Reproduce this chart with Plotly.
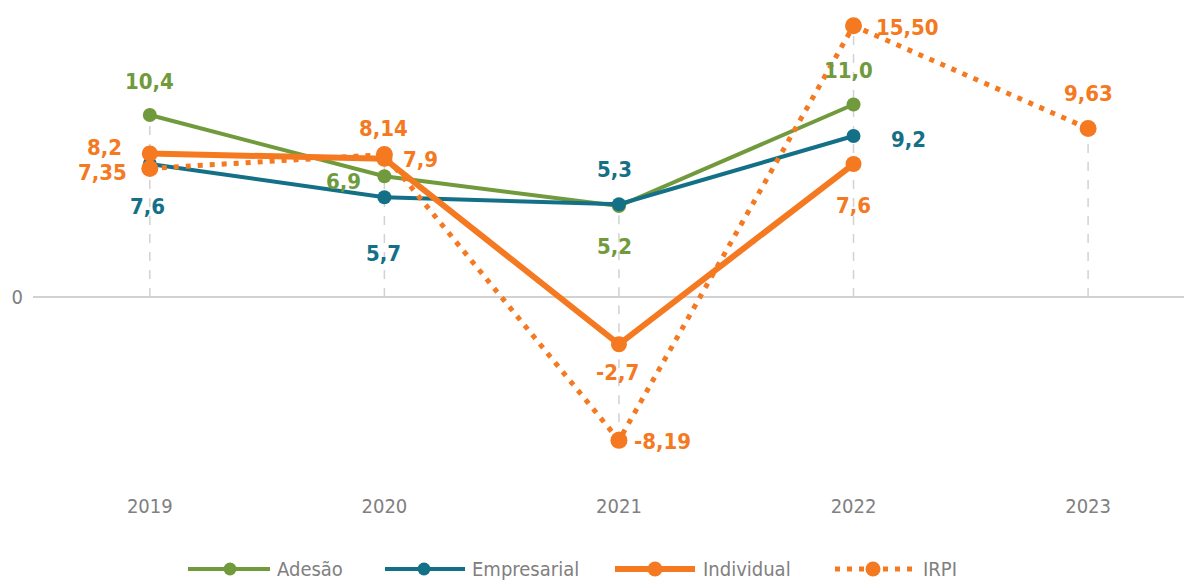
import plotly.graph_objects as go

years = ["2019", "2020", "2021", "2022", "2023"]
adesao = [10.4, 6.9, 5.2, 11.0, None]
empresarial = [7.6, 5.7, 5.3, 9.2, None]
individual = [8.2, 7.9, -2.7, 7.6, None]
irpi = [7.35, 8.14, -8.19, 15.50, 9.63]

GREEN = "rgb(112,154,60)"
TEAL = "rgb(19,112,135)"
ORANGE = "rgb(244,121,32)"
GRID = "rgb(210,210,210)"
GRAYTXT = "rgb(128,128,128)"
FONT = "DejaVu Sans Condensed, Roboto, sans-serif"

xpos = list(range(len(years)))

fig = go.Figure()

# vertical dashed drop lines (from the highest value down to zero / lowest value)
for i in xpos:
    vals = [s[i] for s in (adesao, empresarial, individual, irpi) if s[i] is not None]
    top = max(vals + [0])
    bot = min(vals + [0])
    fig.add_shape(type="line", xref="x", yref="y", x0=i, x1=i, y0=bot, y1=top,
                  line=dict(color=GRID, width=1.5, dash="dash"), layer="below")

series = [
    ("Adesão", adesao, GREEN, 4, "solid", 14, 1),
    ("Empresarial", empresarial, TEAL, 4, "solid", 14, 1),
    ("Individual", individual, ORANGE, 6, "solid", 16, 1),
    ("IRPI", irpi, ORANGE, 5, "5px,7px", 17, 2),
]
for name, vals, color, w, dash, ms, dec in series:
    xs = [x for x, v in zip(xpos, vals) if v is not None]
    ys = [v for v in vals if v is not None]
    fig.add_trace(go.Scatter(
        x=xs, y=ys, name=name, mode="lines+markers", showlegend=False,
        line=dict(color=color, width=w, dash=dash),
        marker=dict(color=color, size=ms),
    ))

# label offsets in pixels (dx, dy with dy positive downward)
offsets = {
    "Adesão": [(0, -34), (-41, 5), (-4, 40), (-5, -34), None],
    "Empresarial": [(-2, 42), (-1, 56), (-4, -35), (55, 3), None],
    "Individual": [(-45, -6), (36, 1), (-1, 28), (0, 41), None],
    "IRPI": [(-47, 4), (-1, -26), (44, 1), (54, 2), (0, -35)],
}
for name, vals, color, w, dash, ms, dec in series:
    for i, v in enumerate(vals):
        if v is None:
            continue
        dx, dy = offsets[name][i]
        txt = f"{v:.{dec}f}".replace(".", ",")
        fig.add_annotation(x=xpos[i], y=v, xref="x", yref="y", text=f"<b>{txt}</b>",
                           showarrow=False, xshift=dx, yshift=-dy,
                           font=dict(family=FONT, size=22, color=color))

# custom legend (pixel layout relative to plot-area bottom-left corner)
# page has an 8px body margin, figure coordinates = page coordinates - 8
PAD = 8
L0, B0 = 33, 492  # plot-area left / bottom in page pixels
legend_layout = [  # line start, line end, marker x, text x (page pixels)
    (188, 270, 230, 275),
    (385, 465, 424, 470),
    (615, 695, 655, 701),
    (835, 915, 873, 921),
]
ly = B0 - 569
for (name, vals, color, w, dash, ms, dec), (a, b, m, t) in zip(series, legend_layout):
    fig.add_shape(type="line", xref="paper", yref="paper", xsizemode="pixel", ysizemode="pixel",
                  xanchor=0, yanchor=0, x0=a - L0, x1=b - L0, y0=ly, y1=ly,
                  line=dict(color=color, width=w, dash=dash))
    r = min(ms, 16) / 2 - 0.5
    fig.add_shape(type="circle", xref="paper", yref="paper", xsizemode="pixel", ysizemode="pixel",
                  xanchor=0, yanchor=0, x0=m - L0 - r, x1=m - L0 + r, y0=ly - r, y1=ly + r,
                  fillcolor=color, line=dict(width=0))
    fig.add_annotation(xref="paper", yref="paper", x=0, y=0, xshift=t - L0, yshift=ly,
                       xanchor="left", yanchor="middle", showarrow=False, text=name,
                       font=dict(family=FONT, size=20, color=GRAYTXT))

W, H = 1192 - PAD, 582 - PAD
fig.update_layout(
    width=W, height=H,
    margin=dict(l=L0 - PAD, r=0, t=10 - PAD, b=H - (B0 - PAD)),
    plot_bgcolor="white", paper_bgcolor="white",
    showlegend=False,
    font=dict(family=FONT),
)
fig.update_xaxes(range=[-0.498, 4.443], showgrid=False, zeroline=False, showline=False,
                 ticks="", tickvals=xpos, ticktext=years, automargin=False,
                 tickfont=dict(family=FONT, size=20, color=GRAYTXT))
fig.update_yaxes(range=[-11.14, 16.4], showgrid=False, zeroline=True, zerolinecolor=GRID,
                 zerolinewidth=2, tickvals=[0], ticktext=["0"], ticks="", automargin=False,
                 ticklabelstandoff=9,
                 tickfont=dict(family=FONT, size=20, color=GRAYTXT))

fig.write_html("out.html")
